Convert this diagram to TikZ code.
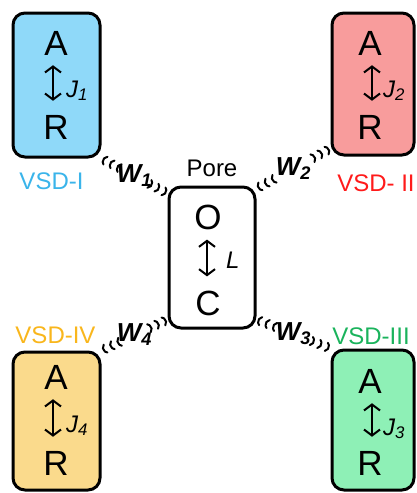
\documentclass[tikz,border=0pt]{standalone}
\usepackage{fontspec}
\setmainfont{Liberation Sans}
\usetikzlibrary{positioning,calc,arrows.meta}

\definecolor{vsdblue}{HTML}{8FD9F9}
\definecolor{vsdred}{HTML}{F89C9C}
\definecolor{vsdgrn}{HTML}{8EF0B6}
\definecolor{vsdyel}{HTML}{FADA8C}
\definecolor{vsdbluetxt}{HTML}{3AB4EA}
\definecolor{vsdredtxt}{HTML}{FF1A1A}
\definecolor{vsdgrntxt}{HTML}{1AB35C}
\definecolor{vsdyeltxt}{HTML}{F9B61C}

\tikzset{
  vsdbox/.style={draw, line width=3pt, rounded corners=12pt,
    minimum width=87pt, minimum height=144pt, inner sep=0pt},
  lettr/.style={inner sep=0pt, font=\fontsize{35}{35}\selectfont},
  rate/.style={inner sep=0pt, anchor=base west, font=\fontsize{24}{24}\selectfont\itshape},
  vsdname/.style={inner sep=0pt, font=\fontsize{24}{24}\selectfont},
  wlabel/.style={inner sep=0pt, font=\fontsize{26}{26}\selectfont\bfseries\itshape},
  trans/.style={{Straight Barb[length=6pt,width=16pt]}-{Straight Barb[length=6pt,width=16pt]},
    line width=2pt, shorten <=10pt, shorten >=14pt},
  wave/.style={line width=2pt, line cap=round},
}

% coupling between a VSD and the pore: label in the middle, waves at both ends
\newcommand{\wavelink}[4]{%
  \node[wlabel] (#3) at ($(#1)!0.5!(#2)$) {#4};
  \draw[wave] let \p1=(#1), \p2=(#2), \n1={atan2(\y2-\y1,\x2-\x1)} in
    foreach \c in {7pt,15pt,23pt} {
      ($(#1)!\c!(#2)$) ++({\n1+120}:5) arc[start angle={\n1+120}, end angle={\n1+240}, radius=5]
      ($(#2)!\c!(#1)$) ++({\n1-60}:5) arc[start angle={\n1-60}, end angle={\n1+60}, radius=5]
    };
}

\begin{document}
\begin{tikzpicture}[x=1pt,y=1pt,line cap=round,line join=round]
  \useasboundingbox (0,0) rectangle (417,-493);

  % domains
  \node[vsdbox, fill=vsdblue] (vI) at (56.5,-85) {};
  \node[vsdbox, fill=vsdred, minimum width=82pt, minimum height=142pt] (vII) at (373,-84) {};
  \node[vsdbox, fill=vsdgrn, minimum width=82pt, minimum height=140pt] (vIII) at (373,-420) {};
  \node[vsdbox, fill=vsdyel, minimum height=138pt] (vIV) at (56.5,-421) {};
  \node[vsdbox, fill=white, minimum width=86pt, minimum height=141pt] (pore) at (212,-257.5) {};

  % names
  \node[vsdname, text=vsdbluetxt, below=14pt of vI, xshift=-5pt] (nI) {VSD-I};
  \node[vsdname, text=vsdredtxt, below=18pt of vII, xshift=3pt] (nII) {VSD- II};
  \node[vsdname, text=vsdgrntxt, above=4pt of vIII, xshift=-2pt] (nIII) {VSD-III};
  \node[vsdname, text=vsdyeltxt, above=7pt of vIV, xshift=-1pt] (nIV) {VSD-IV};
  \node[vsdname, above=9pt of pore] (nP) {Pore};

  % states inside the boxes
  \node[lettr] (aI) at (56,-43) {A};
  \node[lettr] (rI) at (56,-127) {R};
  \node[lettr] (aII) at (370,-43) {A};
  \node[lettr] (rII) at (370,-127) {R};
  \node[lettr] (aIII) at (370,-381) {A};
  \node[lettr] (rIII) at (370,-463) {R};
  \node[lettr] (aIV) at (56,-377) {A};
  \node[lettr] (rIV) at (56,-463) {R};
  \node[lettr] (oP) at (208,-217) {O};
  \node[lettr] (cP) at (208,-303) {C};

  \draw[trans] ([xshift=-3pt]aI.south) -- ([xshift=-3pt]rI.north);
  \draw[trans] ([xshift=2pt]aII.south) -- ([xshift=2pt]rII.north);
  \draw[trans] ([xshift=2pt]aIII.south) -- ([xshift=2pt]rIII.north);
  \draw[trans] ([xshift=-3pt]aIV.south) -- ([xshift=-3pt]rIV.north);
  \draw[trans] ([xshift=-1pt]oP.south) -- ([xshift=-1pt]cP.north);

  \node[rate] (jI) at (66,-97) {J\textsubscript{1}};
  \node[rate] (jII) at (383,-97) {J\textsubscript{2}};
  \node[rate] (jIII) at (383,-435) {J\textsubscript{3}};
  \node[rate] (jIV) at (66,-432) {J\textsubscript{4}};
  \node[rate] (lP) at (226,-268) {L};

  % couplings
  \wavelink{vI.south east}{[yshift=-8pt]pore.north west}{wI}{W\textsubscript{1}}
  \wavelink{[yshift=8pt]vII.south west}{[yshift=-3pt]pore.north east}{wII}{W\textsubscript{2}}
  \wavelink{vIII.north west}{[yshift=10pt]pore.south east}{wIII}{W\textsubscript{3}}
  \wavelink{vIV.north east}{[yshift=10pt]pore.south west}{wIV}{W\textsubscript{4}}
\end{tikzpicture}
\end{document}
